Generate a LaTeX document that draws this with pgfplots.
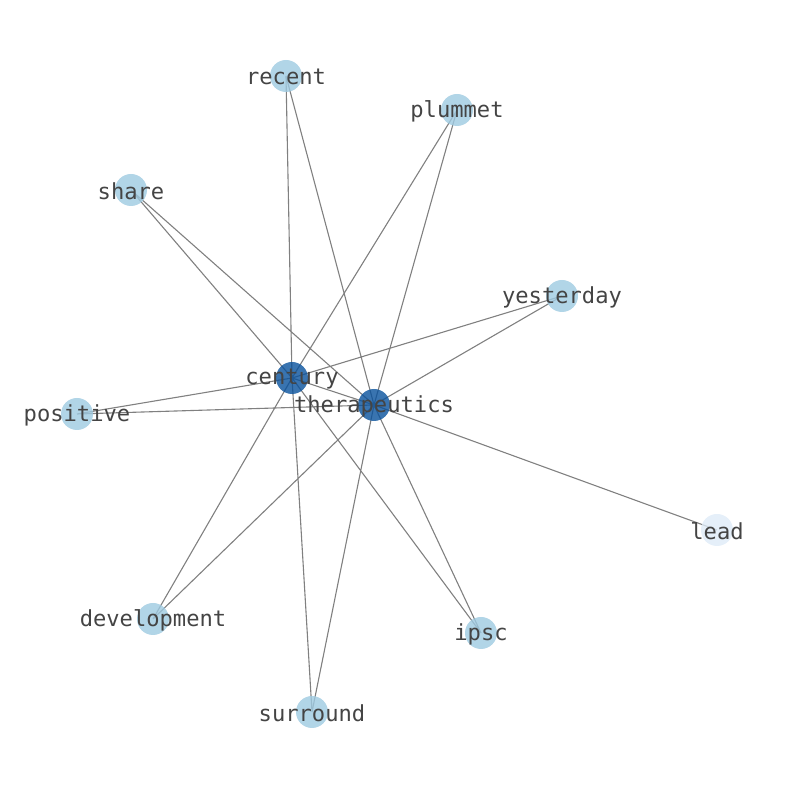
\documentclass[border=0pt]{standalone}
\usepackage{pgfplots}
\pgfplotsset{compat=1.18}
\usepackage{fontspec}
\setmonofont{DejaVu Sans Mono}
\definecolor{lightnode}{HTML}{9ECAE1}
\definecolor{darknode}{HTML}{08519C}
\definecolor{palenode}{HTML}{DEEBF7}
\definecolor{labelgray}{HTML}{444444}
\begin{document}
\begin{tikzpicture}
\begin{axis}[
  scale only axis, width=794bp, height=790bp,
  xmin=0, xmax=794, ymin=0, ymax=790,
  hide axis, clip=false,
  unbounded coords=jump,
]
\path[use as bounding box] (rel axis cs:0,0) rectangle (rel axis cs:1,1);
% edges (y = 790 - pixel y)
\addplot[gray, line width=1.1bp] coordinates {
 (292,412) (286,714) (nan,nan)
 (292,412) (457,680) (nan,nan)
 (292,412) (131,600) (nan,nan)
 (292,412) (562,494) (nan,nan)
 (292,412) (77,376) (nan,nan)
 (292,412) (153,171) (nan,nan)
 (292,412) (312,78) (nan,nan)
 (292,412) (481,157) (nan,nan)
 (292,412) (374,385) (nan,nan)
 (374,385) (286,714) (nan,nan)
 (374,385) (457,680) (nan,nan)
 (374,385) (131,600) (nan,nan)
 (374,385) (562,494) (nan,nan)
 (374,385) (77,376) (nan,nan)
 (374,385) (717,260) (nan,nan)
 (374,385) (153,171) (nan,nan)
 (374,385) (481,157) (nan,nan)
 (374,385) (312,78)
};
% nodes
\addplot[only marks, color=lightnode, mark=*, mark size=16bp, mark options={draw opacity=0, fill=lightnode, fill opacity=0.8}] coordinates {
 (286,714) (457,680) (131,600) (562,494) (77,376) (153,171) (481,157) (312,78)
};
\addplot[only marks, color=palenode, mark=*, mark size=16bp, mark options={draw opacity=0, fill=palenode, fill opacity=0.8}] coordinates {(717,260)};
\addplot[only marks, color=darknode, mark=*, mark size=16bp, mark options={draw opacity=0, fill=darknode, fill opacity=0.8}] coordinates {(292,412) (374,385)};
% labels
\addplot[only marks, mark=none, point meta=explicit symbolic,
  nodes near coords, nodes near coords align={center},
  every node near coord/.style={anchor=center, font=\ttfamily\fontsize{22.2}{24}\selectfont, text=labelgray, inner sep=0pt}]
 table[meta=lab] {
x y lab
286 713 recent
457 679 plummet
131 599 share
562 493 yesterday
292 411 century
374 384 therapeutics
77 375 positive
717 259 lead
153 170 development
481 156 ipsc
312 77 surround
};
\end{axis}
\end{tikzpicture}
\end{document}
